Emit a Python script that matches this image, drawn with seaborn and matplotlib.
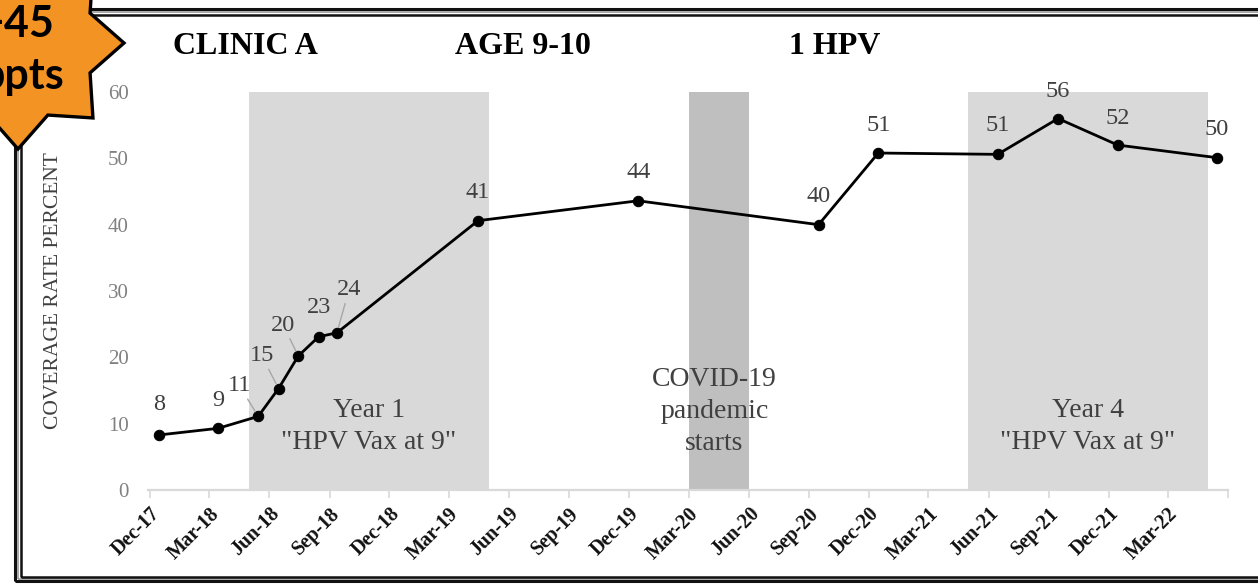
import numpy as np
import pandas as pd
import matplotlib
matplotlib.use("Agg")
import matplotlib.pyplot as plt
import seaborn as sns
from matplotlib.patches import Polygon, Rectangle
from matplotlib.transforms import ScaledTranslation

# --- data ---
dates = ["2017-12-15", "2018-03-15", "2018-05-15", "2018-06-15", "2018-07-15",
         "2018-08-15", "2018-09-12", "2019-04-15", "2019-12-15", "2020-09-15",
         "2020-12-15", "2021-06-15", "2021-09-15", "2021-12-15", "2022-05-15"]
coverage = [8.3, 9.3, 11.1, 15.3, 20.2, 23.1, 23.7, 40.6, 43.6, 40.0,
            50.8, 50.6, 56.0, 52.0, 50.1]

periods = [("2018-05-01", "2019-05-01", 'Year 1\n"HPV Vax at 9"'),
           ("2020-03-01", "2020-06-01", "COVID-19\npandemic\nstarts"),
           ("2021-05-01", "2022-05-01", 'Year 4\n"HPV Vax at 9"')]
titles = ["CLINIC A", "AGE 9-10", "1 HPV"]
badge = ["+45", "ppts"]

# label placement (pixel offsets from each point) and leader-line flags
label_offsets = [(0, 30), (0, 28), (-19, 31), (-17, 33), (-15, 31), (0, 29),
                 (12, 43), (0, 28), (0, 28), (0, 28), (0, 28), (0, 29),
                 (0, 27), (0, 27), (0, 28)]
leaders = [False, False, True, True, True, False, True, False, False, False,
           False, False, False, False, False]

df = pd.DataFrame({"date": pd.to_datetime(dates), "coverage": coverage})

sns.set_theme(style="white")
plt.rcParams["font.family"] = ["Liberation Serif", "DejaVu Serif"]

W, H = 1258, 586
fig = plt.figure(figsize=(W / 100, H / 100), dpi=100)
ax = fig.add_axes([148 / W, 1 - 490 / H, 1080 / W, 398 / H])

# shaded periods
shade_cols = ["#d9d9d9", "#bfbfbf", "#d9d9d9"]
for (start, end, txt), col in zip(periods, shade_cols):
    s, e = pd.Timestamp(start), pd.Timestamp(end)
    ax.axvspan(s, e, ymin=0, ymax=1, color=col, lw=0, zorder=0)
    mid = s + (e - s) / 2
    if txt.count("\n") == 2:
        mid = mid - pd.Timedelta(days=7)
        yc = 11.8
    else:
        yc = 9.6
    ax.text(mid, yc, txt, ha="center", va="center",
            fontsize=20, color="#404040", linespacing=1.38, zorder=1)

sns.lineplot(data=df, x="date", y="coverage", color="black", lw=2.0,
             marker="o", markersize=7.5, markeredgecolor="black", ax=ax, zorder=3)

for (d, v), (dx, dy), lead in zip(zip(df["date"], df["coverage"]), label_offsets, leaders):
    ax.annotate(f"{round(v)}", xy=(d, v), xytext=(dx, dy), textcoords="offset pixels",
                ha="center", va="center", fontsize=17.5, color="#404040",
                arrowprops=dict(arrowstyle="-", color="#a6a6a6", lw=1.0,
                                shrinkA=0, shrinkB=4) if lead else None,
                annotation_clip=False, zorder=4)

# axes styling
ax.set_ylim(0, 60)
ax.set_xlim(pd.Timestamp("2017-11-28"), pd.Timestamp("2022-06-01"))
ax.set_yticks(np.arange(0, 61, 10))
ticks = pd.date_range("2017-12-01", "2022-06-01", freq="3MS")
ax.set_xticks(ticks)
ax.set_xticklabels([t.strftime("%b-%y") for t in ticks[:-1]] + [""],
                   rotation=45, ha="right", va="top", rotation_mode="anchor",
                   fontsize=14.5, fontweight="bold", color="#111111")
for lbl in ax.get_xticklabels():
    lbl.set_transform(lbl.get_transform() + ScaledTranslation(0.09, 0, fig.dpi_scale_trans))
ax.tick_params(axis="x", length=6, width=1.2, color="#d9d9d9", pad=4, bottom=True)
ax.tick_params(axis="y", length=0, pad=14, labelsize=15, labelcolor="#808080")
for side in ["top", "right", "left"]:
    ax.spines[side].set_visible(False)
ax.spines["bottom"].set_color("#d9d9d9")
ax.spines["bottom"].set_linewidth(1.6)
ax.set_xlabel("")
ax.set_ylabel("COVERAGE RATE PERCENT", fontsize=15.5, color="#404040")
ax.yaxis.set_label_coords(-85 / 1080, 0.5)
ax.grid(False)

# titles
for t, x in zip(titles, [245, 523, 835]):
    fig.text(x / W, 1 - 47 / H, t, ha="center", va="center", fontsize=23,
             fontweight="bold", color="black")

# double frame
def px(x, y):
    return x / W, 1 - y / H

frame_out = Rectangle(px(14.5, 580.5), (1300 - 14.5) / W, (580.5 - 9) / H,
                      transform=fig.transFigure, fill=False, ec="#111111", lw=2.2, zorder=5)
frame_gap = Rectangle(px(17.5, 578.5), (1300 - 17.5) / W, (578.5 - 12) / H,
                      transform=fig.transFigure, fill=False, ec="#9a9a9a", lw=1.2, zorder=5)
frame_in = Rectangle(px(20.5, 576.5), (1300 - 20.5) / W, (576.5 - 14.5) / H,
                     transform=fig.transFigure, fill=False, ec="#111111", lw=1.8, zorder=5)
for p in (frame_out, frame_gap, frame_in):
    fig.patches.append(p)

# orange badge star
cx, cy, r_out, r_in = 18, 43, 106, 78
angles = np.deg2rad(np.arange(0, 360, 22.5))
radii = np.where(np.arange(16) % 2 == 0, r_out, r_in)
pts = [px(cx + r * np.cos(a), cy + r * np.sin(a)) for r, a in zip(radii, angles)]
star = Polygon(pts, closed=True, transform=fig.transFigure, fc="#F39323",
               ec="black", lw=2.4, zorder=10)
fig.patches.append(star)
fig.text(54 / W, 1 - 37 / H, badge[0], ha="right", va="baseline", fontsize=31,
         fontweight="bold", family=["Lato", "DejaVu Sans"], color="black", zorder=11)
fig.text(64 / W, 1 - 89 / H, badge[1], ha="right", va="baseline", fontsize=31,
         fontweight="bold", family=["Lato", "DejaVu Sans"], color="black", zorder=11)

fig.savefig("out.png", dpi=100, facecolor="white")
